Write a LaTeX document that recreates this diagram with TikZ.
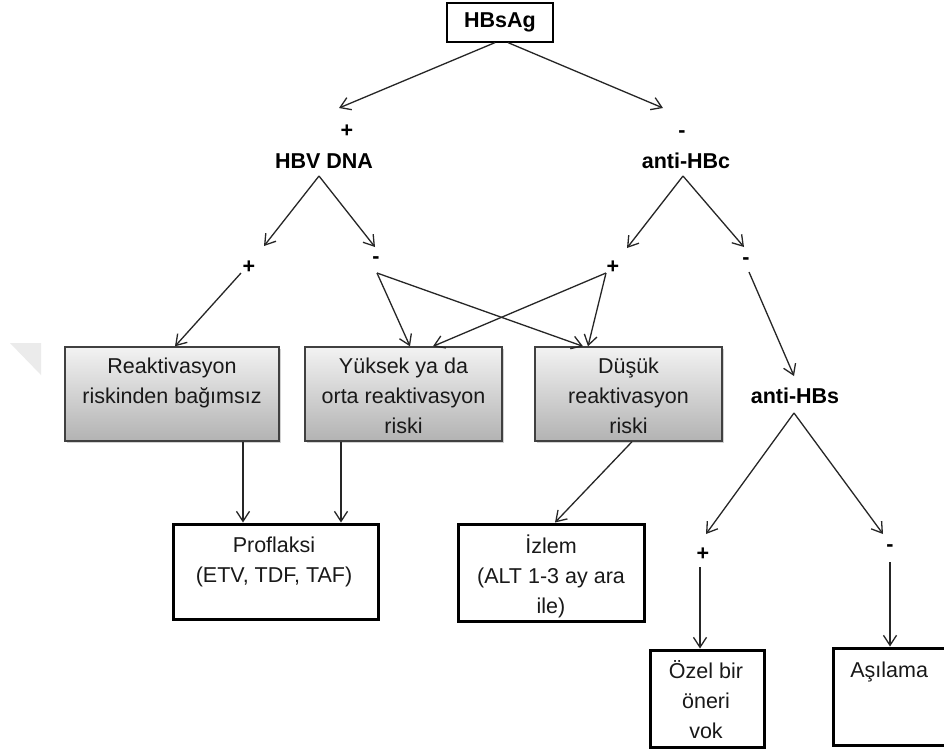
\documentclass[tikz,border=0pt]{standalone}
\usepackage{fontspec}
\setmainfont{Liberation Sans}
\usetikzlibrary{arrows.meta,shadows}
\begin{document}
\begin{tikzpicture}[x=0.5pt,y=-0.5pt,
  every node/.style={font=\fontsize{10.75pt}{15pt}\selectfont},
  arr/.style={draw=black!85,line width=0.65pt,-{Straight Barb[length=5pt,width=6.5pt,line width=0.65pt]}},
  lbl/.style={anchor=base,inner sep=0pt,font=\fontsize{10.75pt}{15pt}\selectfont\bfseries},
  graybox/.style={draw=black!75,line width=0.7pt,top color=black!5,bottom color=black!30,inner sep=0pt,minimum height=47pt,drop shadow={shadow xshift=0.9pt,shadow yshift=-0.9pt,opacity=0.35}},
  thickbox/.style={draw=black,line width=1.5pt,fill=white,inner sep=0pt},
  boxtext/.style={anchor=north,inner sep=0pt,align=center,text=black!90},
]
\useasboundingbox (0,0) rectangle (944,752);
\clip (0,0) rectangle (944,752);
\fill[white] (0,0) rectangle (944,752);
% faint watermark corner
\fill[black!8] (10,343) -- (41,343) -- (41,375) -- cycle;

% top box
\node[draw=black,line width=0.6pt,minimum width=53pt,minimum height=19.5pt,inner sep=0pt,font=\fontsize{10.75pt}{15pt}\selectfont\bfseries] (hbsag) at (500,22.5) {HBsAg};

% labels
\node[lbl] (p1) at (347,137.5) {+};
\node[lbl] (hbv) at (324,168.5) {HBV DNA};
\node[lbl] (m1) at (682,137) {-};
\node[lbl] (hbc) at (686,168) {anti-HBc};
\node[lbl] (p2) at (249,273) {+};
\node[lbl] (m2) at (376,263) {-};
\node[lbl] (p3) at (613,273) {+};
\node[lbl] (m3) at (746,264) {-};
\node[lbl] (hbs) at (795,403) {anti-HBs};
\node[lbl] (p4) at (703,560) {+};
\node[lbl] (m4) at (890,551) {-};

% boxes
\node[graybox,minimum width=107pt] (reak) at (172,394) {};
\node[graybox,minimum width=98.5pt] (yuk) at (403.5,394) {};
\node[graybox,minimum width=93.5pt] (dus) at (628.5,394) {};
\node[thickbox,minimum width=102.5pt,minimum height=47.5pt] (prof) at (275.5,571.5) {};
\node[thickbox,minimum width=93pt,minimum height=48.5pt] (izlem) at (551,572.5) {};
\node[thickbox,minimum width=57pt,minimum height=48.5pt] (ozel) at (707,698.5) {};
\node[thickbox,minimum width=61pt,minimum height=48.5pt] (asi) at (894,696.5) {};

% box texts
\node[boxtext] (reakt) at (172,353) {\rule{0pt}{10pt}Reaktivasyon\\riskinden bağımsız};
\node[boxtext] (yukt) at (403.5,353) {\rule{0pt}{10pt}Yüksek ya da\\orta reaktivasyon\\riski};
\node[boxtext] (dust) at (628.5,353) {\rule{0pt}{10pt}Düşük\\reaktivasyon\\riski};
\node[boxtext] (proft) at (274,532) {\rule{0pt}{10pt}Proflaksi\\(ETV, TDF, TAF)};
\node[boxtext] (izlemt) at (551,533) {\rule{0pt}{10pt}İzlem\\(ALT 1-3 ay ara\\ile)};
\node[boxtext] (ozelt) at (706,658) {\rule{0pt}{10pt}Özel bir\\öneri\\vok};
\node[anchor=base west,inner sep=0pt,text=black!90] (asit) at (850,677) {Aşılama};

% connector end points
\coordinate (a1) at (339,108);
\coordinate (a2) at (663,108);
\coordinate (hbvs) at (319,176);
\coordinate (hbvl) at (264,246);
\coordinate (hbvr) at (375,247);
\coordinate (hbcs) at (683,176);
\coordinate (hbcl) at (627,248);
\coordinate (hbcr) at (744,247);
\coordinate (p2s) at (241,273);
\coordinate (m2s) at (377,273);
\coordinate (p3s) at (606,273);
\coordinate (m3s) at (749,272);
\coordinate (hbse) at (794,376);
\coordinate (hbss) at (794,413);
\coordinate (hbsl) at (706,534);
\coordinate (hbsr) at (883,534);
\coordinate (p4s) at (700,567);
\coordinate (m4s) at (890,562);

% connectors
\draw[arr] ([xshift=-2.5pt]hbsag.south) -- (a1);
\draw[arr] ([xshift=4pt]hbsag.south) -- (a2);
\draw[arr] (hbvs) -- (hbvl);
\draw[arr] (hbvs) -- (hbvr);
\draw[arr] (hbcs) -- (hbcl);
\draw[arr] (hbcs) -- (hbcr);
\draw[arr] (p2s) -- ([xshift=1.5pt]reak.north);
\draw[arr] (m2s) -- ([xshift=3.25pt]yuk.north);
\draw[arr] (m2s) -- ([xshift=-22.75pt]dus.north);
\draw[arr] (p3s) -- ([xshift=14.75pt]yuk.north);
\draw[arr] (p3s) -- ([xshift=-20.25pt]dus.north);
\draw[arr] (m3s) -- (hbse);
\draw[arr] (hbss) -- (hbsl);
\draw[arr] (hbss) -- (hbsr);
\draw[arr] ([xshift=35.5pt]reak.south) -- ([xshift=-16.25pt]prof.north);
\draw[arr] ([xshift=-31.25pt]yuk.south) -- ([xshift=32.75pt]prof.north);
\draw[arr] ([xshift=1.75pt]dus.south) -- ([xshift=2pt]izlem.north);
\draw[arr] (p4s) -- ([xshift=-3.5pt]ozel.north);
\draw[arr] (m4s) -- ([xshift=-2pt]asi.north);
\end{tikzpicture}
\end{document}
